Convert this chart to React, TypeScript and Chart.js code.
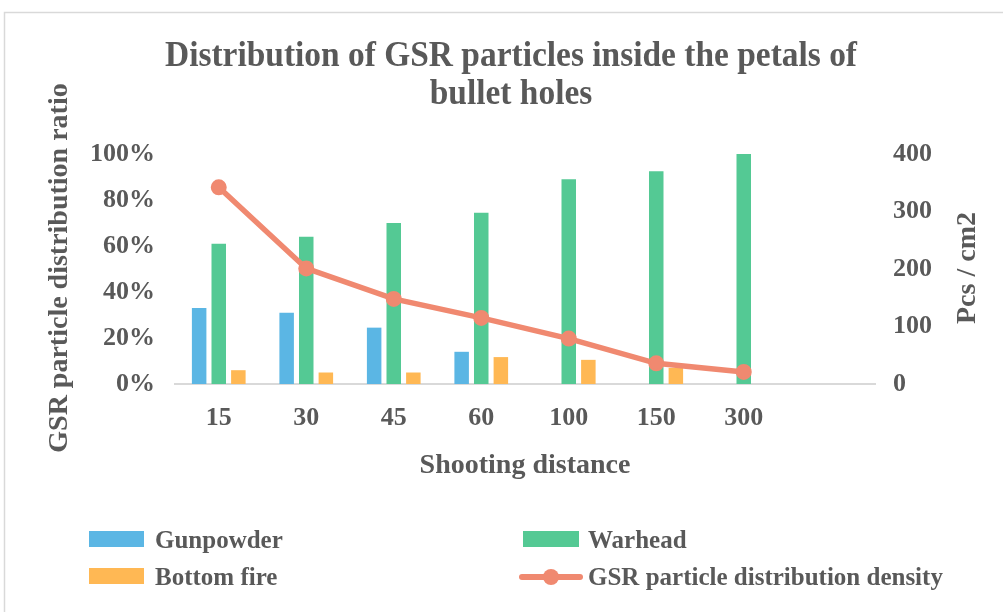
import React, { useEffect, useRef } from 'react';
import { Chart, registerables } from 'chart.js';

Chart.register(...registerables);

const categories = ['15', '30', '45', '60', '100', '150', '300', ''];
const gunpowder = [33, 31, 24.5, 14, 0, 0, 0, null];
const warhead = [61, 64, 70, 74.5, 89, 92.5, 100, null];
const bottomFire = [6, 5, 5, 11.7, 10.5, 7, 0, null];
const density = [342, 201, 148, 115, 79, 36, 21, null];

const titleLines = ['Distribution of GSR particles inside the petals of', 'bullet holes'];
const leftAxisTitle = 'GSR particle distribution ratio';
const rightAxisTitle = 'Pcs / cm2';
const xAxisTitle = 'Shooting distance';
const seriesNames = ['Gunpowder', 'Warhead', 'Bottom fire', 'GSR particle distribution density'];

const BLUE = 'rgb(91,182,228)';
const GREEN = 'rgb(84,201,148)';
const ORANGE = 'rgb(255,184,84)';
const SALMON = 'rgb(240,137,112)';
const TEXT = '#595959';
const FAMILY = '"Liberation Serif", "Times New Roman", serif';

const decorPlugin = {
  id: 'decor',
  afterDraw(chart: any) {
    const ctx = chart.ctx as CanvasRenderingContext2D;
    ctx.save();
    // outer border
    ctx.strokeStyle = '#d9d9d9';
    ctx.lineWidth = 1.5;
    ctx.beginPath();
    ctx.moveTo(4.5, 612);
    ctx.lineTo(4.5, 12.5);
    ctx.lineTo(1003, 12.5);
    ctx.stroke();

    ctx.fillStyle = TEXT;
    // title
    ctx.font = `bold 35px ${FAMILY}`;
    const w0 = ctx.measureText(titleLines[0]).width;
    const sx = Math.min(1, 692 / w0);
    ctx.textAlign = 'center';
    ctx.textBaseline = 'alphabetic';
    const ys = [66, 104];
    titleLines.forEach((t, i) => {
      ctx.save();
      ctx.translate(511, ys[i]);
      ctx.scale(sx, 1);
      ctx.fillText(t, 0, 0);
      ctx.restore();
    });

    // left axis title
    ctx.font = `bold 28px ${FAMILY}`;
    ctx.save();
    ctx.translate(67, 268);
    ctx.rotate(-Math.PI / 2);
    ctx.fillText(leftAxisTitle, 0, 0);
    ctx.restore();

    // right axis title
    ctx.save();
    ctx.translate(975, 268);
    ctx.rotate(-Math.PI / 2);
    ctx.fillText(rightAxisTitle, 0, 0);
    ctx.restore();

    // x axis title
    ctx.fillText(xAxisTitle, 525, 473);

    // legend
    ctx.font = `bold 25px ${FAMILY}`;
    ctx.textAlign = 'left';
    ctx.fillStyle = BLUE;
    ctx.fillRect(89, 531, 55, 16);
    ctx.fillStyle = GREEN;
    ctx.fillRect(523, 531, 56, 16);
    ctx.fillStyle = ORANGE;
    ctx.fillRect(89, 568, 55, 16);
    ctx.strokeStyle = SALMON;
    ctx.lineWidth = 6;
    ctx.lineCap = 'round';
    ctx.beginPath();
    ctx.moveTo(522, 577);
    ctx.lineTo(580, 577);
    ctx.stroke();
    ctx.fillStyle = SALMON;
    ctx.beginPath();
    ctx.arc(551, 577, 8, 0, Math.PI * 2);
    ctx.fill();

    ctx.fillStyle = TEXT;
    ctx.fillText(seriesNames[0], 155, 548);
    ctx.fillText(seriesNames[1], 588, 548);
    ctx.fillText(seriesNames[2], 155, 585);
    ctx.fillText(seriesNames[3], 588, 585);
    ctx.restore();
  },
};

export default function App() {
  const ref = useRef<HTMLCanvasElement | null>(null);
  useEffect(() => {
    if (!ref.current) return;
    const tickFont = { family: FAMILY, size: 26, weight: 'bold' as const };
    const chart = new Chart(ref.current, {
      type: 'bar',
      data: {
        labels: categories,
        datasets: [
          {
            type: 'bar',
            label: seriesNames[0],
            data: gunpowder as any,
            backgroundColor: BLUE,
            yAxisID: 'y',
            order: 1,
            categoryPercentage: 0.672,
            barPercentage: 0.74,
          },
          {
            type: 'bar',
            label: seriesNames[1],
            data: warhead as any,
            backgroundColor: GREEN,
            yAxisID: 'y',
            order: 1,
            categoryPercentage: 0.672,
            barPercentage: 0.74,
          },
          {
            type: 'bar',
            label: seriesNames[2],
            data: bottomFire as any,
            backgroundColor: ORANGE,
            yAxisID: 'y',
            order: 1,
            categoryPercentage: 0.672,
            barPercentage: 0.74,
          },
          {
            type: 'line',
            label: seriesNames[3],
            data: density as any,
            borderColor: SALMON,
            backgroundColor: SALMON,
            borderWidth: 5.5,
            pointRadius: 7,
            pointBorderWidth: 2,
            pointBackgroundColor: SALMON,
            pointBorderColor: SALMON,
            yAxisID: 'y1',
            order: 0,
            tension: 0,
          } as any,
        ],
      },
      options: {
        responsive: false,
        animation: false,
        devicePixelRatio: 1,
        layout: { padding: { top: 154, bottom: 0, left: 0, right: 0 } },
        plugins: {
          legend: { display: false },
          title: { display: false },
          tooltip: { enabled: false },
        },
        scales: {
          x: {
            grid: { display: false, drawTicks: false },
            border: { display: true, color: '#d9d9d9', width: 2 },
            ticks: { font: tickFont, color: TEXT, padding: 19, maxRotation: 0, autoSkip: false },
            afterFit: (s: any) => { s.height = 228; },
          },
          y: {
            position: 'left',
            min: 0,
            max: 100,
            grid: { display: false, drawTicks: false },
            border: { display: false },
            ticks: { stepSize: 20, font: tickFont, color: TEXT, padding: 20, callback: (v: any) => `${v}%` },
            afterFit: (s: any) => { s.width = 175; },
          },
          y1: {
            position: 'right',
            min: 0,
            max: 400,
            grid: { display: false, drawTicks: false },
            border: { display: false },
            ticks: { stepSize: 100, font: tickFont, color: TEXT, padding: 18 },
            afterFit: (s: any) => { s.width = 128; },
          },
        },
      } as any,
      plugins: [decorPlugin],
    });
    return () => chart.destroy();
  }, []);
  return (
    <div style={{ position: 'absolute', left: 0, top: 0, width: 1003, height: 612, background: '#fff' }}>
      <canvas ref={ref} width={1003} height={612} style={{ display: 'block', width: 1003, height: 612 }} />
    </div>
  );
}
